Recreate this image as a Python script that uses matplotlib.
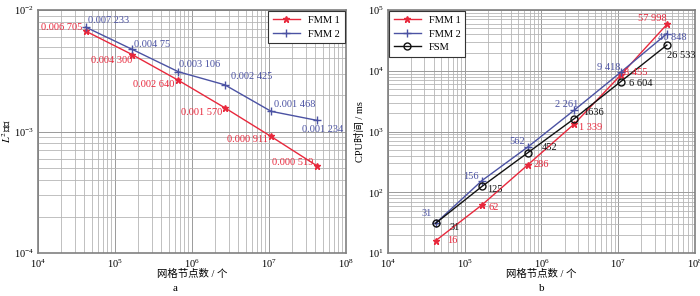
import matplotlib
matplotlib.use("Agg")
import matplotlib.pyplot as plt
from matplotlib.ticker import LogLocator, NullFormatter

plt.rcParams['font.family'] = ['Liberation Serif', 'Noto Sans CJK SC']
plt.rcParams['mathtext.fontset'] = 'stix'
plt.rcParams['font.size'] = 8

# data
nodes = [4.2e4, 1.68e5, 6.7e5, 2.68e6, 1.07e7, 4.29e7]
err_fmm1 = [0.006705, 0.0043, 0.00264, 0.00157, 0.000911, 0.000519]
err_fmm2 = [0.007233, 0.00475, 0.003106, 0.002425, 0.001468, 0.001234]
err_lab1 = ['0.006 705', '0.004 300', '0.002 640', '0.001 570', '0.000 911', '0.000 519']
err_lab2 = ['0.007 233', '0.004 75', '0.003 106', '0.002 425', '0.001 468', '0.001 234']

cpu_fmm1 = [16, 62, 286, 1339, 8455, 57998]
cpu_fmm2 = [31, 156, 562, 2261, 9418, 40848]
cpu_fsm = [31, 125, 452, 1636, 6604, 26533]
cpu_lab1 = ['16', '62', '286', '1 339', '8 455', '57 998']
cpu_lab2 = ['31', '156', '562', '2 261', '9 418', '40 848']
cpu_lab3 = ['31', '125', '452', '1636', '6 604', '26 533']

red = '#e8283c'
blue = '#4b52a3'
black = '#111111'
fs = 7.5

fig = plt.figure(figsize=(7, 2.96), dpi=100)
ax1 = fig.add_axes([0.054, 0.145, 0.440, 0.821])
ax2 = fig.add_axes([0.554, 0.145, 0.439, 0.821])


def style(ax):
    ax.set_xscale('log')
    ax.set_yscale('log')
    ax.set_xlim(1e4, 1e8)
    ax.xaxis.set_major_locator(LogLocator(base=10, numticks=10))
    ax.xaxis.set_minor_locator(LogLocator(base=10, subs=range(2, 10), numticks=20))
    ax.yaxis.set_minor_locator(LogLocator(base=10, subs=range(2, 10), numticks=20))
    ax.xaxis.set_minor_formatter(NullFormatter())
    ax.yaxis.set_minor_formatter(NullFormatter())
    ax.grid(True, which='major', color='#9a9a9a', lw=0.7)
    ax.grid(True, which='minor', color='#b5b5b5', lw=0.6)
    ax.tick_params(which='both', length=0, labelsize=7.5, pad=3)
    for s in ax.spines.values():
        s.set_color('#808080')
        s.set_linewidth(1.2)
    ax.set_axisbelow(True)
    ax.set_xlabel('网格节点数 / 个', fontsize=7.5)
    ax.xaxis.set_label_coords(0.5, -0.065)


def label(ax, xs, ys, labs, offs, c):
    # offsets are in pixels: (dx, dy, ha)
    for x, y, t, o in zip(xs, ys, labs, offs):
        ax.annotate(t, (x, y), xytext=o[:2], textcoords='offset pixels', ha=o[2],
                    va='center', color=c, fontsize=fs)


def legend(ax, loc):
    leg = ax.legend(loc=loc, fontsize=fs, fancybox=False, framealpha=1,
                    edgecolor='#333333', borderaxespad=0.1, handlelength=2.6,
                    borderpad=0.45, labelspacing=0.4)
    leg.get_frame().set_linewidth(0.8)


style(ax1)
ax1.set_ylim(1e-4, 1e-2)
ax1.plot(nodes, err_fmm1, color=red, lw=1, marker='*', ms=5, label='FMM 1')
ax1.plot(nodes, err_fmm2, color=blue, lw=1, marker='+', ms=6, label='FMM 2')
ax1.set_ylabel('$L^2$误差', fontsize=7.5)
ax1.yaxis.set_label_coords(-0.08, 0.5)

label(ax1, nodes, err_fmm1, err_lab1,
      [(-3, 4, 'right'), (0, -6, 'right'), (-4, -4, 'right'),
       (-3, -5, 'right'), (-3, -3, 'right'), (-4, 4, 'right')], red)
label(ax1, nodes, err_fmm2, err_lab2,
      [(2, 7, 'left'), (2, 5, 'left'), (1, 7, 'left'),
       (6, 8, 'left'), (3, 7, 'left'), (-15, -9, 'left')], blue)
legend(ax1, 'upper right')

style(ax2)
ax2.set_ylim(10, 1e5)
ax2.plot(nodes, cpu_fmm1, color=red, lw=1, marker='*', ms=5, label='FMM 1')
ax2.plot(nodes, cpu_fmm2, color=blue, lw=1, marker='+', ms=6, label='FMM 2')
ax2.plot(nodes, cpu_fsm, color=black, lw=1, marker='o', ms=5, mfc='none', label='FSM')
ax2.set_ylabel('CPU时间 / ms', fontsize=7.5)
ax2.yaxis.set_label_coords(-0.075, 0.5)

label(ax2, nodes, cpu_fmm1, cpu_lab1,
      [(11, 0, 'left'), (7, -3, 'left'), (5, 0, 'left'),
       (5, -4, 'left'), (3, 3, 'left'), (0, 6, 'right')], red)
label(ax2, nodes, cpu_fmm2, cpu_lab2,
      [(-4, 10, 'right'), (-3, 4, 'right'), (-3, 5, 'right'),
       (4, 6, 'right'), (0, 5, 'right'), (-9, -4, 'left')], blue)
label(ax2, nodes, cpu_fsm, cpu_lab3,
      [(14, -4, 'left'), (5, -3, 'left'), (14, 5, 'left'),
       (9, 6, 'left'), (8, -2, 'left'), (0, -10, 'left')], black)
legend(ax2, 'upper left')

fig.text(0.25, 0.024, 'a', ha='center', va='center', fontsize=8)
fig.text(0.774, 0.024, 'b', ha='center', va='center', fontsize=8)

fig.savefig('out.png', dpi=100)
